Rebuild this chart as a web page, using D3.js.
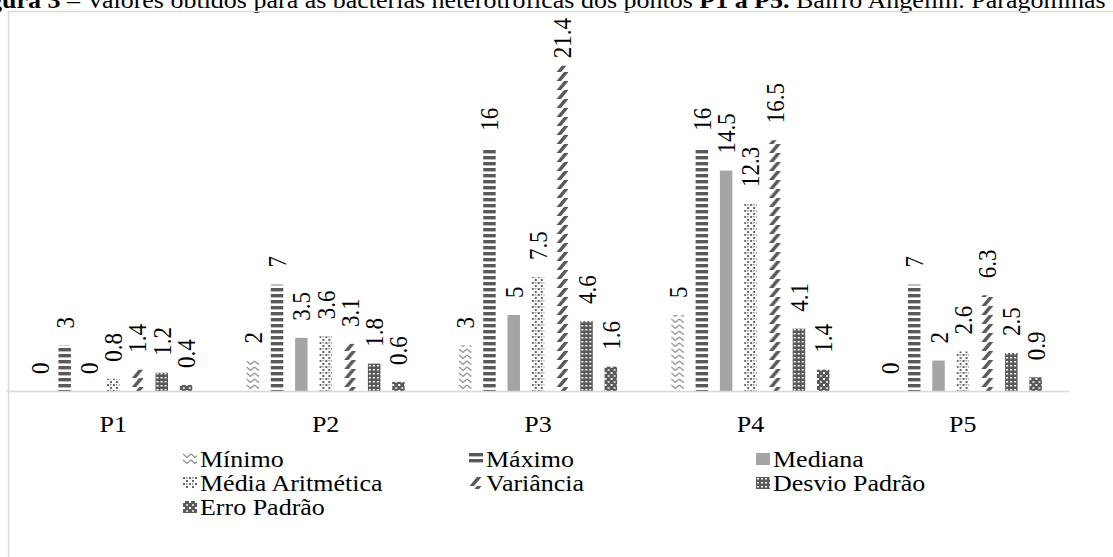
<!DOCTYPE html>
<html>
<head>
<meta charset="utf-8">
<script src="https://cdn.jsdelivr.net/npm/d3@7"></script>
<style>
  html, body { margin: 0; padding: 0; background: #ffffff; overflow: hidden; }
  svg { display: block; }
  svg text { font-family: "Liberation Serif", "Times New Roman", Times, serif; fill: #000; }
</style>
</head>
<body>
<svg id="chart" width="1113" height="557" font-family="'Liberation Serif', 'Times New Roman', Times, serif"></svg>
<script>
// ---- data ----
const categories = ["P1", "P2", "P3", "P4", "P5"];
const seriesNames = ["Mínimo", "Máximo", "Mediana", "Média Aritmética", "Variância", "Desvio Padrão", "Erro Padrão"];
const minimo    = [0, 2, 3, 5, 0];
const maximo    = [3, 7, 16, 16, 7];
const mediana   = [0, 3.5, 5, 14.5, 2];
const media     = [0.8, 3.6, 7.5, 12.3, 2.6];
const variancia = [1.4, 3.1, 21.4, 16.5, 6.3];
const desvio    = [1.2, 1.8, 4.6, 4.1, 2.5];
const erro      = [0.4, 0.6, 1.6, 1.4, 0.9];
const titleParts = [
  {t: "Figura 3", b: true},
  {t: " – Valores obtidos para as bactérias heterotróficas dos pontos ", b: false},
  {t: "P1 a P5.", b: true},
  {t: " Bairro Angelim. Paragominas", b: false}
];

const seriesValues = [minimo, maximo, mediana, media, variancia, desvio, erro];
const fills = ["url(#pMin)", "url(#pMax)", "#a5a5a5", "url(#pMedia)", "url(#pVar)", "url(#pDesvio)", "url(#pErro)"];

const SX = 1.13;      // horizontal stretch of the original picture
const FS = 23;        // font size
const FF = "'Liberation Serif', 'Times New Roman', Times, serif";
const dark = "#595959";

const svg = d3.select("#chart");
const defs = svg.append("defs");

function pat(id, w, h) {
  return defs.append("pattern").attr("id", id).attr("patternUnits", "userSpaceOnUse")
    .attr("width", w).attr("height", h);
}
let p;
p = pat("pMin", 8, 6);
p.append("path").attr("d", "M0,1 L4,4.5 L8,1").attr("fill", "none").attr("stroke", "#8c8c8c").attr("stroke-width", 1.2);

p = pat("pMax", 40, 6);
p.append("rect").attr("x", 0).attr("y", 0).attr("width", 40).attr("height", 3.4).attr("fill", dark);

p = pat("pMedia", 6, 6);
p.append("rect").attr("x", 0).attr("y", 0).attr("width", 2).attr("height", 2).attr("fill", "#666666");
p.append("rect").attr("x", 3).attr("y", 3).attr("width", 2).attr("height", 2).attr("fill", "#666666");
p.append("rect").attr("x", 3).attr("y", 0).attr("width", 1.5).attr("height", 1.5).attr("fill", "#8a8a8a");

p = pat("pVar", 40, 9);
p.append("polygon").attr("points", "0.5,9 5,9 12.5,0 8,0").attr("fill", dark);

p = pat("pDesvio", 4, 4);
p.append("rect").attr("width", 4).attr("height", 4).attr("fill", dark);
p.append("rect").attr("x", 1).attr("y", 1).attr("width", 2).attr("height", 1.5).attr("fill", "#ffffff");

p = pat("pErro", 6, 6);
p.append("rect").attr("width", 6).attr("height", 6).attr("fill", dark);
p.append("rect").attr("x", 0).attr("y", 0).attr("width", 2).attr("height", 2).attr("fill", "#ffffff");
p.append("rect").attr("x", 3).attr("y", 3).attr("width", 2).attr("height", 2).attr("fill", "#d0d0d0");

// ---- title (partly cut off at the top, as in the reference) ----
const title = svg.append("text")
  .attr("transform", `translate(-34,8) scale(${SX},1)`)
  .attr("font-family", FF)
  .style("font-size", FS + "px");
title.selectAll("tspan").data(titleParts).join("tspan")
  .style("font-weight", d => d.b ? "bold" : "normal")
  .text(d => d.t);

// ---- frame ----
svg.append("path").attr("d", "M8.5,557 L8.5,11.5 L1113,11.5")
  .attr("fill", "none").attr("stroke", "#d9d9d9").attr("stroke-width", 1.5);

// ---- scales ----
const x0 = d3.scaleBand().domain(categories).range([7, 1069]).paddingInner(0).paddingOuter(0);
const groupPad = x0.bandwidth() * 0.1;
const x1 = d3.scaleBand().domain(seriesNames)
  .range([groupPad, x0.bandwidth() - groupPad]).paddingInner(0.486).paddingOuter(0.243);
const y = d3.scaleLinear().domain([0, 25]).range([391, 11]);

// ---- bars ----
const bars = [];
categories.forEach((c, ci) => {
  seriesNames.forEach((s, si) => {
    bars.push({c, s, si, v: seriesValues[si][ci], x: x0(c) + x1(s)});
  });
});

const bg = svg.append("g").selectAll("g.bar").data(bars).join("g")
  .attr("class", "bar")
  .attr("transform", d => `translate(${d.x},0)`);
bg.append("rect")
  .attr("x", 0)
  .attr("y", d => y(d.v))
  .attr("width", x1.bandwidth())
  .attr("height", d => y(0) - y(d.v))
  .attr("fill", d => fills[d.si]);

// ---- axis line ----
svg.append("line")
  .attr("x1", x0.range()[0]).attr("x2", x0.range()[1])
  .attr("y1", y(0) + 0.5).attr("y2", y(0) + 0.5)
  .attr("stroke", "#d9d9d9").attr("stroke-width", 1.5);

// ---- category labels ----
svg.append("g").selectAll("text").data(categories).join("text")
  .attr("transform", d => `translate(${x0(d) + x0.bandwidth() / 2},432) scale(${SX},1)`)
  .attr("text-anchor", "middle")
  .attr("font-family", FF)
  .style("font-size", FS + "px")
  .text(d => d);

// ---- data labels ----
const labG = svg.append("g");
bars.forEach(d => {
  const g = labG.append("g");
  const t = g.append("text")
    .attr("text-anchor", "start")
    .attr("dominant-baseline", "central")
    .attr("font-family", FF)
    .style("font-size", FS + "px")
    .text(String(d.v));
  const len = t.node().getComputedTextLength();
  const yStart = Math.max(y(d.v) - 17, 18 + len);
  g.attr("transform", `translate(${d.x + x1.bandwidth() / 2},${yStart}) scale(${SX},1) rotate(-90)`);
});

// ---- legend ----
const colX = [200, 486, 773];
const rowY = [467, 491, 515];
const legend = svg.append("g").selectAll("g").data(seriesNames).join("g")
  .attr("transform", (d, i) => `translate(${colX[i % 3]},${rowY[Math.floor(i / 3)]})`);
legend.append("g")
  .attr("transform", "translate(-17,-14)")
  .append("rect")
  .attr("width", 14).attr("height", 12)
  .attr("fill", (d, i) => fills[i]);
legend.append("text")
  .attr("transform", `scale(${SX},1)`)
  .attr("font-family", FF)
  .style("font-size", FS + "px")
  .text(d => d);
</script>
</body>
</html>
